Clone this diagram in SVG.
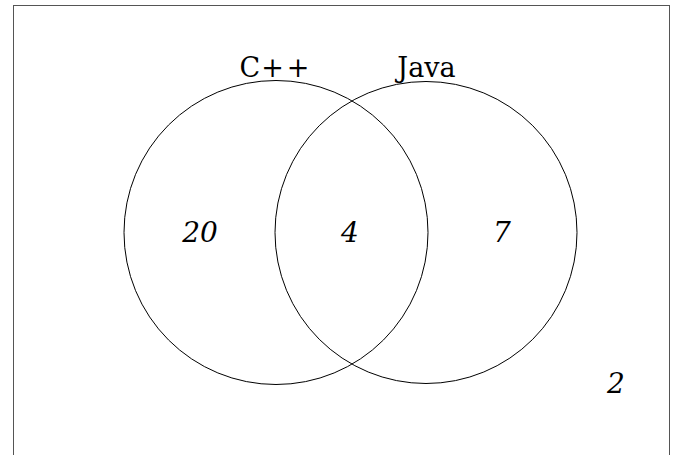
<svg xmlns="http://www.w3.org/2000/svg" width="680" height="455" viewBox="0 0 680 455">
<style>
.set{fill:none;stroke:#000;stroke-width:1}
.lbl{font-family:"DejaVu Serif","Liberation Serif",serif;font-size:27px;fill:#000;text-anchor:middle}
.num{font-family:"DejaVu Serif","Liberation Serif",serif;font-style:italic;font-size:28px;fill:#000;text-anchor:middle}
</style>
<rect x="0" y="0" width="680" height="455" fill="#fff"/>
<rect x="13.5" y="5.5" width="656" height="460" fill="none" stroke="#555" stroke-width="1"/>
<g id="cpp"><circle class="set" cx="276" cy="232.5" r="152"/><text class="lbl" x="274.5" y="77"><tspan>C</tspan><tspan dx="1">+</tspan><tspan dx="3">+</tspan></text></g>
<g id="java"><circle class="set" cx="426" cy="232.5" r="151"/><text class="lbl" x="426.5" y="77">Java</text></g>
<g id="only-cpp"><text class="num" x="200" y="242">20</text></g>
<g id="both"><text class="num" x="350" y="242">4</text></g>
<g id="only-java"><text class="num" x="502" y="242">7</text></g>
<g id="neither"><text class="num" x="616" y="393">2</text></g>
<g id="connectors"></g>
</svg>
